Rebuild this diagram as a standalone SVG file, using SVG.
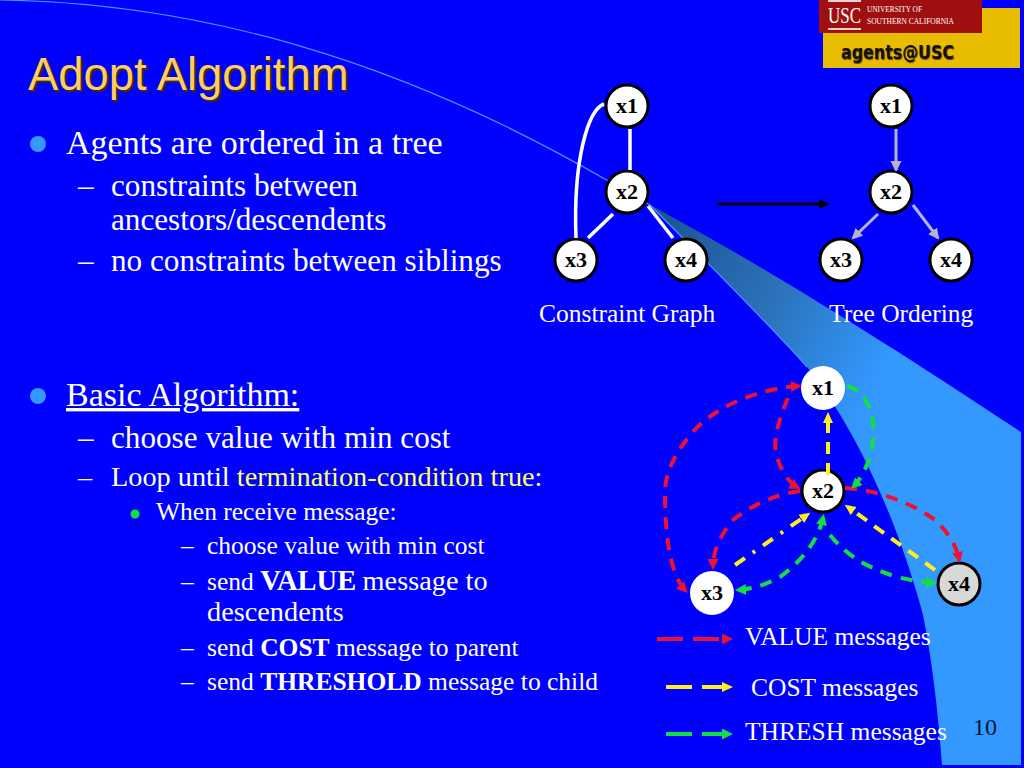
<svg xmlns="http://www.w3.org/2000/svg" width="1024" height="768" viewBox="0 0 1024 768">
<style>
text{font-family:"Liberation Serif","Times New Roman",serif;fill:#fff}
.l1{font-size:34px}.l3{font-size:31.2px}.l4{font-size:25.5px}.l5{font-size:28.3px}
.cap{font-size:25.5px}
.nt{font-size:22px;font-weight:bold;fill:#000;text-anchor:middle}
.n{fill:#fff;stroke:#000;stroke-width:3}
.n0{fill:#fff}
.w{fill:none;stroke:#fff;stroke-width:3.5}
.g{fill:none;stroke:#b4b4cc;stroke-width:3;marker-end:url(#ag)}
.r,.y,.t{fill:none;stroke-width:4;stroke-dasharray:12 9}
.r{stroke:#f01030;marker-end:url(#ar)}
.y{stroke:#ffef20;marker-end:url(#ay)}
.t{stroke:#10e040;marker-end:url(#at)}
.lg{stroke-dasharray:26 10}
</style>
<defs>
<linearGradient id="sw" gradientUnits="userSpaceOnUse" x1="655" y1="215" x2="900" y2="340">
<stop offset="0" stop-color="#1a5490"/><stop offset="0.5" stop-color="#2b70b8"/><stop offset="1" stop-color="#3399ff"/>
</linearGradient>
<marker id="ag" markerWidth="12" markerHeight="12" refX="9" refY="5.5" orient="auto" markerUnits="userSpaceOnUse"><path d="M0 0L11 5.5L0 11Z" fill="#b4b4cc"/></marker>
<marker id="ak" markerWidth="12" markerHeight="12" refX="8" refY="5" orient="auto" markerUnits="userSpaceOnUse"><path d="M0 0L10 5L0 10Z" fill="#000"/></marker>
<marker id="ar" markerWidth="12" markerHeight="12" refX="7" refY="5.5" orient="auto-start-reverse" markerUnits="userSpaceOnUse"><path d="M0 0L11 5.5L0 11Z" fill="#f01030"/></marker>
<marker id="ay" markerWidth="12" markerHeight="12" refX="7" refY="5" orient="auto-start-reverse" markerUnits="userSpaceOnUse"><path d="M0 0L11 5L0 10Z" fill="#ffef20"/></marker>
<marker id="at" markerWidth="12" markerHeight="12" refX="7" refY="5.5" orient="auto-start-reverse" markerUnits="userSpaceOnUse"><path d="M0 0L11 5.5L0 11Z" fill="#10e040"/></marker>
</defs>
<rect id="background" width="1024" height="768" fill="#0000ff"/>
<path id="swoosh" d="M650 205C740 253 860 325 1021 432V765H942C938 710 932 660 923 615C895 510 850 420 807 367C770 325 700 255 650 205Z" fill="url(#sw)"/>
<path id="arc" d="M0 0C200 3 400 60 610 182L650 205C700 255 770 325 807 367" fill="none" stroke="#4a94ff" stroke-width="1.2"/>
<g id="logo">
<rect x="823" y="8" width="197" height="60" fill="#e8bc00"/>
<rect x="819" y="0" width="163" height="33" fill="#a00f10"/>
<rect x="828" y="0" width="33" height="2" fill="#e8d0d0"/>
<rect x="828" y="28" width="33" height="2" fill="#e8d0d0"/>
<text x="828" y="23" style="font-size:23px" textLength="33" lengthAdjust="spacingAndGlyphs">USC</text>
<text x="867" y="12" style="font-size:8px" textLength="55" lengthAdjust="spacingAndGlyphs">UNIVERSITY OF</text>
<text x="867" y="24" style="font-size:8px" textLength="87" lengthAdjust="spacingAndGlyphs">SOUTHERN CALIFORNIA</text>
<text x="841" y="59" textLength="113" lengthAdjust="spacingAndGlyphs" style="font-family:'DejaVu Sans',sans-serif;font-size:20px;font-weight:bold;fill:#111;text-shadow:1px 1px 1px #6b4a00">agents@USC</text>
</g>
<text id="title" x="28" y="90" style="font-family:'Liberation Sans',sans-serif;font-size:45.4px;fill:#ffcc66;text-shadow:2px 2px 1px #40300a">Adopt Algorithm</text>
<g id="bullets">
<circle cx="38" cy="144" r="8" fill="#3399ff"/>
<circle cx="38" cy="396" r="8" fill="#3399ff"/>
<circle cx="135" cy="514" r="4.5" fill="#10e040"/>
<text class="l1" x="66" y="154">Agents are ordered in a tree</text>
<text class="l3" x="78" y="196">–</text><text class="l3" x="111" y="196">constraints between</text>
<text class="l3" x="111" y="230">ancestors/descendents</text>
<text class="l3" x="78" y="271">–</text><text class="l3" x="111" y="271">no constraints between siblings</text>
<text class="l1" x="66" y="406" text-decoration="underline">Basic Algorithm:</text>
<text class="l3" x="78" y="448">–</text><text class="l3" x="111" y="448">choose value with min cost</text>
<text class="l5" x="78" y="486">–</text><text class="l5" x="111" y="486">Loop until <tspan fill="#ffff66">termination-condition true</tspan>:</text>
<text class="l4" x="156" y="520">When receive message:</text>
<text class="l4" x="181" y="554">–</text><text class="l4" x="207" y="554">choose value with min cost</text>
<text class="l4" x="181" y="590">–</text><text class="l4" x="207" y="590">send <tspan font-weight="bold" font-size="28.5">VALUE</tspan> <tspan font-size="28.3">message to</tspan></text>
<text class="l5" x="207" y="621">descendents</text>
<text class="l4" x="181" y="656">–</text><text class="l4" x="207" y="656">send <tspan font-weight="bold">COST</tspan> message to parent</text>
<text class="l4" x="181" y="690">–</text><text class="l4" x="207" y="690">send <tspan font-weight="bold">THRESHOLD</tspan> message to child</text>
</g>
<g id="n1"><circle class="n" cx="627" cy="106" r="21"/><text class="nt" x="627" y="113">x1</text></g>
<g id="n2"><circle class="n" cx="627" cy="192" r="21"/><text class="nt" x="627" y="199">x2</text></g>
<g id="n3"><circle class="n" cx="576" cy="260" r="21"/><text class="nt" x="576" y="267">x3</text></g>
<g id="n4"><circle class="n" cx="686" cy="260" r="21"/><text class="nt" x="686" y="267">x4</text></g>
<g id="t1"><circle class="n" cx="891" cy="106" r="21"/><text class="nt" x="891" y="113">x1</text></g>
<g id="t2"><circle class="n" cx="891" cy="192" r="21"/><text class="nt" x="891" y="199">x2</text></g>
<g id="t3"><circle class="n" cx="841" cy="260" r="21"/><text class="nt" x="841" y="267">x3</text></g>
<g id="t4"><circle class="n" cx="951" cy="260" r="21"/><text class="nt" x="951" y="267">x4</text></g>
<text class="cap" x="539" y="322">Constraint Graph</text>
<text class="cap" x="829" y="322">Tree Ordering</text>
<g id="m1"><circle class="n0" cx="823" cy="388" r="22"/><text class="nt" x="823" y="395">x1</text></g>
<g id="m2"><circle class="n" cx="823" cy="491" r="21"/><text class="nt" x="823" y="498">x2</text></g>
<g id="m3"><circle class="n0" cx="712" cy="593" r="22"/><text class="nt" x="712" y="600">x3</text></g>
<g id="m4"><circle class="n" cx="959" cy="584" r="21" style="fill:#d8d8d8"/><text class="nt" x="959" y="591">x4</text></g>
<g id="connectors">
<path class="w" d="M604 104C588 110 573 160 576 238"/>
<path class="w" d="M630 129V170"/>
<path class="w" d="M613 214L588 238"/>
<path class="w" d="M648 206L673 238"/>
<path d="M717 204H827" fill="none" stroke="#000" stroke-width="3" marker-end="url(#ak)"/>
<path class="g" d="M896 129V170"/>
<path class="g" d="M878 214L853 238"/>
<path class="g" d="M913 205L938 238"/>
<path class="r" d="M798 386C760 389 715 405 690 435C672 458 665 475 665 493C665 525 668 572 685 590" marker-start="url(#ar)"/>
<path class="r" d="M788 398C778 420 772 445 777 457C781 470 788 482 797 487"/>
<path class="r" d="M800 491C770 495 745 510 733 520C720 535 713 552 713 566"/>
<path class="r" d="M845 488C880 490 915 505 935 520C948 532 956 545 959 559"/>
<path class="y" d="M828 475V416"/>
<path class="y" style="stroke-dasharray:12 9.5 3 9.5" d="M735 565L807 515"/>
<path class="y" d="M935 570L848 507"/>
<path class="t" d="M847 386C875 392 882 440 862 475C859 480 857 483 854 486"/>
<path class="t" d="M823 518C818 540 803 560 780 577C765 585 752 589 739 590" marker-start="url(#at)"/>
<path class="t" d="M830 535C845 553 860 565 897 577C910 580 920 582 933 583"/>
<path class="r lg" d="M657 639H729"/>
<path class="y lg" d="M666 687H729"/>
<path class="t lg" d="M666 734H729"/>
</g>
<g id="legend">
<text class="cap" x="745" y="645">VALUE messages</text>
<text class="cap" x="751" y="696">COST messages</text>
<text class="cap" x="745" y="740">THRESH messages</text>
</g>
<text id="page" x="973" y="735" style="font-size:24px;fill:#001a40">10</text>
</svg>
